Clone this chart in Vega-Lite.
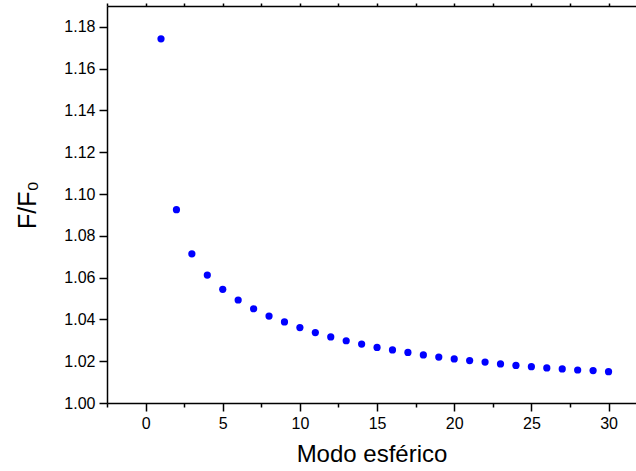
{
  "$schema": "https://vega.github.io/schema/vega-lite/v6.json",
  "width": 529,
  "height": 397,
  "autosize": {"type": "none"},
  "padding": {"left": 107, "top": 6, "right": 0, "bottom": 68},
  "background": "white",
  "config": {"view": {"stroke": null}, "font": "Liberation Sans"},
  "data": {"values": [
    {"modo": 1, "f": 1.1743}, {"modo": 2, "f": 1.0925}, {"modo": 3, "f": 1.0714},
    {"modo": 4, "f": 1.0612}, {"modo": 5, "f": 1.0544}, {"modo": 6, "f": 1.0493},
    {"modo": 7, "f": 1.0451}, {"modo": 8, "f": 1.0416}, {"modo": 9, "f": 1.0388},
    {"modo": 10, "f": 1.0361}, {"modo": 11, "f": 1.0337}, {"modo": 12, "f": 1.0316},
    {"modo": 13, "f": 1.0298}, {"modo": 14, "f": 1.0282}, {"modo": 15, "f": 1.0266},
    {"modo": 16, "f": 1.0254}, {"modo": 17, "f": 1.0242}, {"modo": 18, "f": 1.0230},
    {"modo": 19, "f": 1.0220}, {"modo": 20, "f": 1.0211}, {"modo": 21, "f": 1.0203},
    {"modo": 22, "f": 1.0196}, {"modo": 23, "f": 1.0187}, {"modo": 24, "f": 1.0180},
    {"modo": 25, "f": 1.0174}, {"modo": 26, "f": 1.0168}, {"modo": 27, "f": 1.0163},
    {"modo": 28, "f": 1.0158}, {"modo": 29, "f": 1.0155}, {"modo": 30, "f": 1.0150}
  ]},
  "layer": [
    {
      "mark": {"type": "point", "filled": true, "size": 52, "color": "#0000ff", "opacity": 1},
      "encoding": {
        "x": {
          "field": "modo", "type": "quantitative",
          "scale": {"domain": [-2.5, 31.78], "nice": false, "zero": false},
          "axis": {
            "orient": "bottom",
            "title": "Modo esférico",
            "titleFontSize": 24, "titleFontWeight": "normal", "titleColor": "black", "titlePadding": 11,
            "values": [-2.5, 0, 2.5, 5, 7.5, 10, 12.5, 15, 17.5, 20, 22.5, 25, 27.5, 30],
            "labelExpr": "datum.value % 5 == 0 ? datum.label : ''",
            "labelFontSize": 16, "labelColor": "black", "labelPadding": 4,
            "labelOverlap": false, "labelFlush": false,
            "tickSize": {"condition": {"test": "datum.value % 5 != 0", "value": 4}, "value": 8},
            "tickColor": "black", "tickWidth": 1.5,
            "domainColor": "black", "domainWidth": 1.5,
            "grid": false
          }
        },
        "y": {
          "field": "f", "type": "quantitative",
          "scale": {"domain": [1.0, 1.19], "nice": false, "zero": false},
          "axis": {
            "title": "F/F₀",
            "titleFontSize": 25, "titleFontWeight": "normal", "titleColor": "black", "titlePadding": 23,
            "values": [1.0, 1.01, 1.02, 1.03, 1.04, 1.05, 1.06, 1.07, 1.08, 1.09, 1.10, 1.11, 1.12, 1.13, 1.14, 1.15, 1.16, 1.17, 1.18, 1.19],
            "format": ".2f",
            "labelExpr": "round(datum.value * 100) % 2 == 0 ? datum.label : ''",
            "labelFontSize": 16, "labelColor": "black", "labelPadding": 4,
            "labelOverlap": false, "labelFlush": false,
            "tickSize": {"condition": {"test": "round(datum.value * 100) % 2 != 0", "value": 4}, "value": 8},
            "tickColor": "black", "tickWidth": 1.5,
            "domainColor": "black", "domainWidth": 1.5,
            "grid": false
          }
        }
      }
    },
    {
      "mark": {"type": "point", "opacity": 0},
      "encoding": {
        "x": {
          "field": "modo", "type": "quantitative",
          "axis": {
            "orient": "top", "title": null, "labels": false,
            "values": [-2.5, 0, 2.5, 5, 7.5, 10, 12.5, 15, 17.5, 20, 22.5, 25, 27.5, 30],
            "tickSize": 3, "tickColor": "black", "tickWidth": 1.5,
            "domainColor": "black", "domainWidth": 1.5, "grid": false
          }
        },
        "y": {"field": "f", "type": "quantitative"}
      }
    }
  ],
  "resolve": {"axis": {"x": "independent"}}
}
